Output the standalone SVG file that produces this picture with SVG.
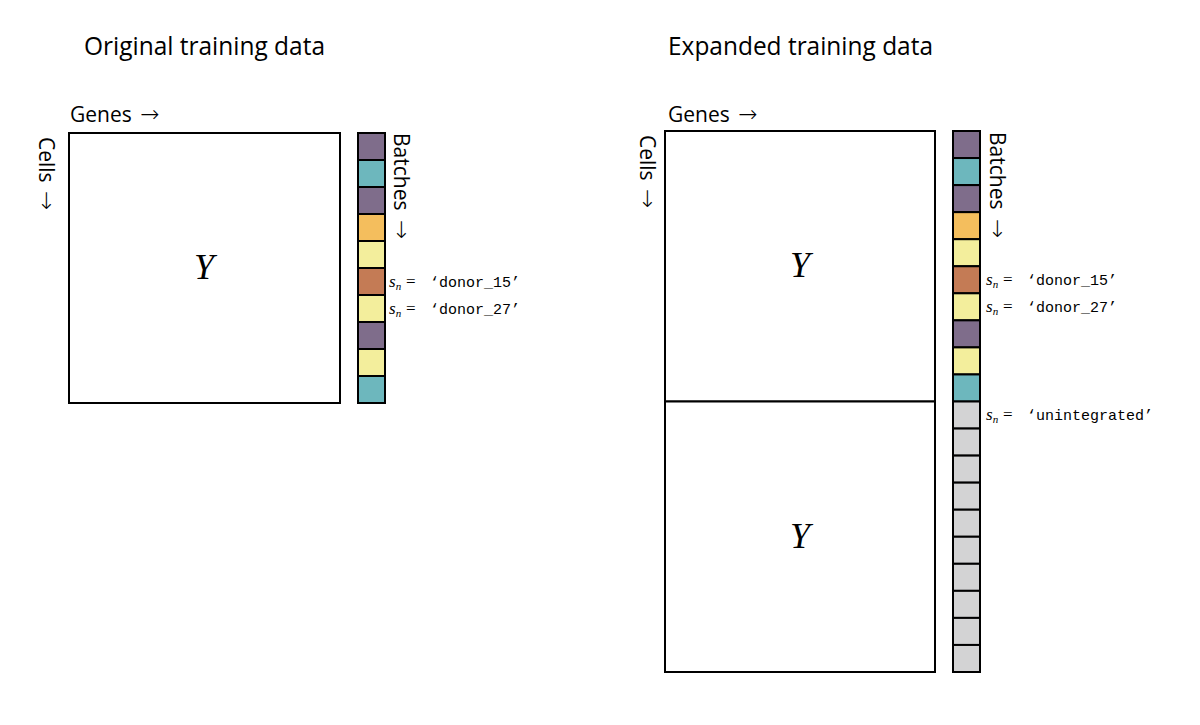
<svg xmlns="http://www.w3.org/2000/svg" width="1200" height="725" viewBox="0 0 1200 725">
<style>
.title{font-family:"Open Sans","Noto Sans",sans-serif;font-size:25px;fill:#000}
.lab{font-family:"Open Sans","Noto Sans",sans-serif;font-size:21px;fill:#000}
.arr{font-family:"DejaVu Sans",sans-serif;font-weight:200;font-size:23px}
.mat{fill:#fff;stroke:#000;stroke-width:2}
.c{stroke:#000;stroke-width:2}
.pu{fill:#7f6d8b}.te{fill:#6db7bd}.or{fill:#f4be5d}.ye{fill:#f3ee9c}.br{fill:#c47b55}.gr{fill:#d3d3d4}
.Y{font-family:"Liberation Serif",serif;font-style:italic;font-size:36px;fill:#000}
.sn{font-family:"Liberation Serif",serif;font-style:italic;font-size:17px;fill:#000}
.sub{font-family:"Liberation Serif",serif;font-style:italic;font-size:11px}
.eq{font-family:"Liberation Serif",serif;font-size:17px;fill:#000}
.mono{font-family:"Liberation Mono",monospace;font-size:15px;fill:#000}
</style>
<rect width="1200" height="725" fill="#fff"/>
<g id="left">
<text class="title" x="84" y="55" textLength="241" lengthAdjust="spacingAndGlyphs">Original training data</text>
<text class="lab" x="70" y="122">Genes <tspan class="arr" dx="3">→</tspan></text>
<text class="lab" transform="translate(39,137) rotate(90)">Cells <tspan class="arr" dx="3">→</tspan></text>
<text class="lab" transform="translate(394,133) rotate(90)">Batches <tspan class="arr" dx="4">→</tspan></text>
<g id="matrixL">
<rect class="mat" x="69" y="133" width="271" height="270"/>
<text class="Y" x="204" y="279" text-anchor="middle">Y</text>
</g>
<g id="batchesL">
<rect class="c pu" x="358" y="133" width="27" height="27"/>
<rect class="c te" x="358" y="160" width="27" height="27"/>
<rect class="c pu" x="358" y="187" width="27" height="27"/>
<rect class="c or" x="358" y="214" width="27" height="27"/>
<rect class="c ye" x="358" y="241" width="27" height="27"/>
<rect class="c br" x="358" y="268" width="27" height="27"/>
<rect class="c ye" x="358" y="295" width="27" height="27"/>
<rect class="c pu" x="358" y="322" width="27" height="27"/>
<rect class="c ye" x="358" y="349" width="27" height="27"/>
<rect class="c te" x="358" y="376" width="27" height="27"/>
</g>
<g id="labelsL">
<text x="389" y="287"><tspan class="sn">s</tspan><tspan class="sub" dy="3">n</tspan><tspan class="eq" dy="-3" x="406">=</tspan><tspan class="mono" x="430">‘donor_15’</tspan></text>
<text x="389" y="314"><tspan class="sn">s</tspan><tspan class="sub" dy="3">n</tspan><tspan class="eq" dy="-3" x="406">=</tspan><tspan class="mono" x="430">‘donor_27’</tspan></text>
</g>
</g>
<g id="right">
<text class="title" x="668" y="55" textLength="265" lengthAdjust="spacingAndGlyphs">Expanded training data</text>
<text class="lab" x="668" y="122">Genes <tspan class="arr" dx="3">→</tspan></text>
<text class="lab" transform="translate(640,135) rotate(90)">Cells <tspan class="arr" dx="3">→</tspan></text>
<text class="lab" transform="translate(990,132) rotate(90)">Batches <tspan class="arr" dx="4">→</tspan></text>
<g id="matrixR1">
<rect class="mat" x="665" y="131" width="270" height="270.5"/>
<text class="Y" x="800" y="277" text-anchor="middle">Y</text>
</g>
<g id="matrixR2">
<rect class="mat" x="665" y="401.5" width="270" height="270.5"/>
<text class="Y" x="800" y="548" text-anchor="middle">Y</text>
</g>
<g id="batchesR">
<rect class="c pu" x="953" y="131" width="27" height="27.05"/>
<rect class="c te" x="953" y="158.05" width="27" height="27.05"/>
<rect class="c pu" x="953" y="185.1" width="27" height="27.05"/>
<rect class="c or" x="953" y="212.15" width="27" height="27.05"/>
<rect class="c ye" x="953" y="239.2" width="27" height="27.05"/>
<rect class="c br" x="953" y="266.25" width="27" height="27.05"/>
<rect class="c ye" x="953" y="293.3" width="27" height="27.05"/>
<rect class="c pu" x="953" y="320.35" width="27" height="27.05"/>
<rect class="c ye" x="953" y="347.4" width="27" height="27.05"/>
<rect class="c te" x="953" y="374.45" width="27" height="27.05"/>
<rect class="c gr" x="953" y="401.5" width="27" height="27.05"/>
<rect class="c gr" x="953" y="428.55" width="27" height="27.05"/>
<rect class="c gr" x="953" y="455.6" width="27" height="27.05"/>
<rect class="c gr" x="953" y="482.65" width="27" height="27.05"/>
<rect class="c gr" x="953" y="509.7" width="27" height="27.05"/>
<rect class="c gr" x="953" y="536.75" width="27" height="27.05"/>
<rect class="c gr" x="953" y="563.8" width="27" height="27.05"/>
<rect class="c gr" x="953" y="590.85" width="27" height="27.05"/>
<rect class="c gr" x="953" y="617.9" width="27" height="27.05"/>
<rect class="c gr" x="953" y="644.95" width="27" height="27.05"/>
</g>
<g id="labelsR">
<text x="986" y="285"><tspan class="sn">s</tspan><tspan class="sub" dy="3">n</tspan><tspan class="eq" dy="-3" x="1003">=</tspan><tspan class="mono" x="1027">‘donor_15’</tspan></text>
<text x="986" y="312"><tspan class="sn">s</tspan><tspan class="sub" dy="3">n</tspan><tspan class="eq" dy="-3" x="1003">=</tspan><tspan class="mono" x="1027">‘donor_27’</tspan></text>
<text x="986" y="420"><tspan class="sn">s</tspan><tspan class="sub" dy="3">n</tspan><tspan class="eq" dy="-3" x="1003">=</tspan><tspan class="mono" x="1027">‘unintegrated’</tspan></text>
</g>
</g>
</svg>
